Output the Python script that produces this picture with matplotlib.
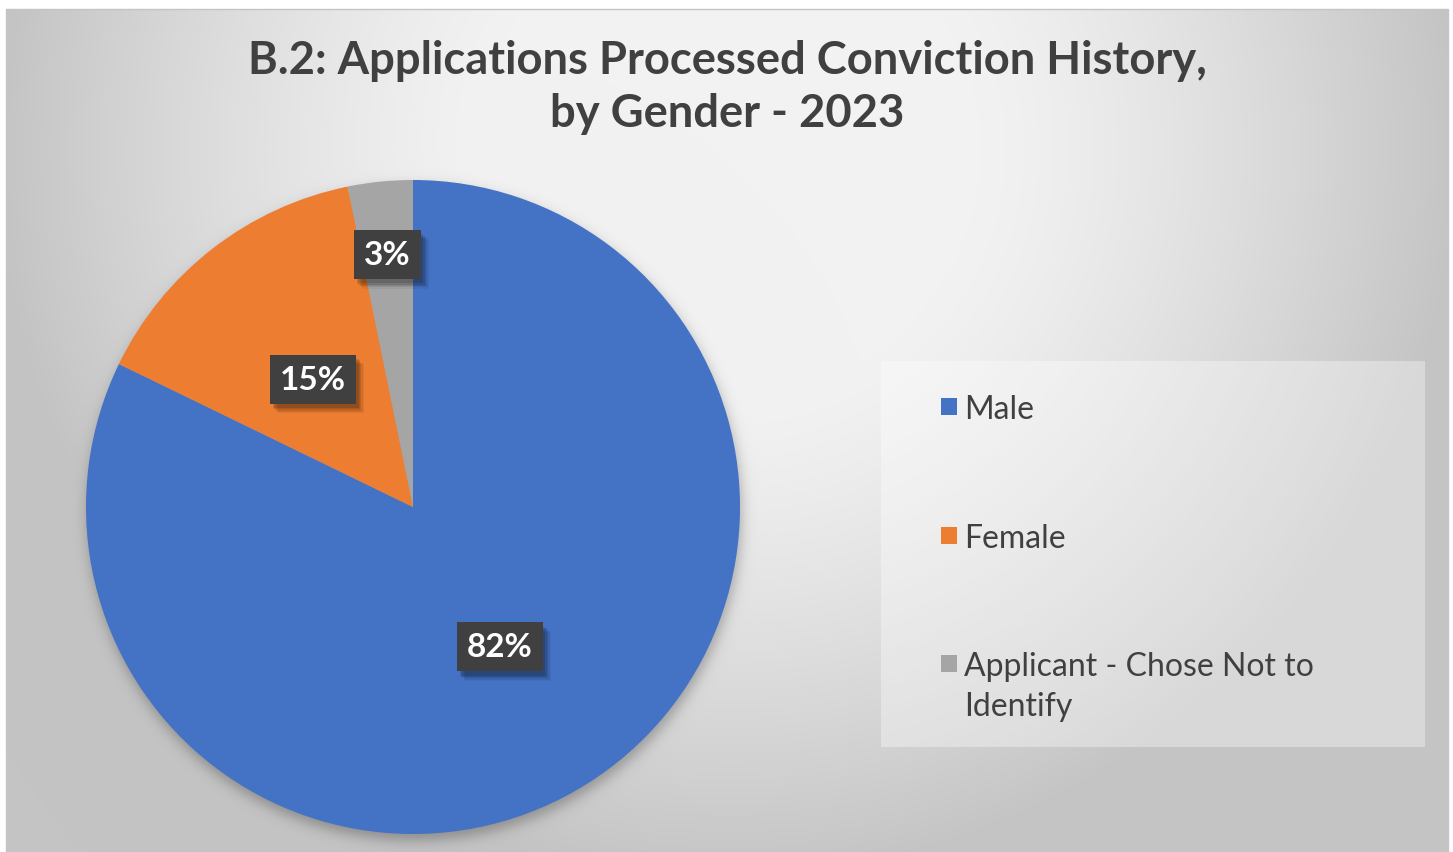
import numpy as np
import matplotlib
matplotlib.use("Agg")
import matplotlib.pyplot as plt
from matplotlib.patches import Rectangle
import matplotlib.patheffects as pe

# ---- data ----
categories = ["Male", "Female", "Applicant - Chose Not to\nIdentify"]
shares = [82.2, 14.6, 3.2]
colors = ["#4472C4", "#ED7D31", "#A5A5A5"]
title_lines = ["B.2: Applications Processed Conviction History,", "by Gender - 2023"]

# ---- layout (pixels) ----
W, H = 1453, 853
cx, cy, R = 413, 508, 327
label_r = [0.5, 0.5, 0.78]

fig = plt.figure(figsize=(W / 100, H / 100), dpi=100)
fig.patch.set_facecolor("white")

# background gradient with soft pie shadow
bx0, by0, bw, bh = 6, 10, 1442, 843
bg_ax = fig.add_axes([bx0 / W, 0, bw / W, bh / H])
yy, xx = np.mgrid[0:bh, 0:bw]
px = xx + bx0
py = yy + by0
d = np.hypot(px - 730, py - 150)
t = np.clip((d - 250) / 480, 0, 1) ** 1.3
val = 242 - 46 * t
ds = np.hypot(px - (cx + 1), py - (cy + 6))
sh = 0.5 * (1 - np.tanh((ds - R) / 8))
val = val * (1 - 0.28 * sh)
img = np.dstack([val] * 3) / 255.0
bg_ax.imshow(img, aspect="auto", interpolation="bilinear")
bg_ax.set_axis_off()
fig.patches.append(Rectangle((bx0 / W, 0), bw / W, bh / H, transform=fig.transFigure,
                             fill=False, ec="#c4c4c4", lw=1, zorder=5))

# pie
half = 360
ax = fig.add_axes([(cx - half) / W, (H - cy - half) / H, 2 * half / W, 2 * half / H])
wedges, _ = ax.pie(shares, colors=colors, startangle=90, counterclock=False, radius=1,
                   wedgeprops=dict(linewidth=0))
ax.set_xlim(-half / R, half / R)
ax.set_ylim(-half / R, half / R)
ax.set_axis_off()

shadow_fx = [pe.SimplePatchShadow(offset=(o, -o - 1), shadow_rgbFace="black", alpha=a)
             for o, a in [(6, 0.05), (5, 0.07), (4, 0.09), (3, 0.11), (2, 0.12)]] + [pe.Normal()]
for w, s, r in zip(wedges, shares, label_r):
    ang = np.deg2rad((w.theta1 + w.theta2) / 2)
    txt = ax.text(r * np.cos(ang), r * np.sin(ang) - 0.004, f"{round(s):.0f}%", ha="center",
                  va="center", color="white", fontsize=24, fontweight="bold", family="Lato",
                  bbox=dict(boxstyle="square,pad=0.3", fc="#404040", ec="none", lw=0))
    txt.get_bbox_patch().set_path_effects(shadow_fx)

# title
title_base = [74, 127]
tts = []
for line, yb in zip(title_lines, title_base):
    tts.append(fig.text(727 / W, (H - yb) / H, line, ha="center", va="baseline",
                        fontsize=29, fontweight="bold", color="#404040", family="Lato"))
fig.canvas.draw()
wid = tts[0].get_window_extent().width
for tt in tts:
    tt.set_fontsize(29 * 961 / wid)

# legend
fig.patches.append(Rectangle((881 / W, (H - 748) / H), (1425 - 881) / W, (748 - 362) / H,
                             transform=fig.transFigure, fc="white", alpha=0.35, ec="none"))
for i, (lab, col) in enumerate(zip(categories, colors)):
    yc = 407.5 + i * 128.5
    fig.patches.append(Rectangle((941 / W, (H - yc - 8.5) / H), 16 / W, 17 / H,
                                 transform=fig.transFigure, fc=col, ec="none"))
    for j, part in enumerate(lab.split("\n")):
        fig.text(964 / W, (H - yc - 11.5 - 40 * j) / H, part, ha="left", va="baseline",
                 fontsize=23, color="#404040", family="Lato")

fig.savefig("out.png", dpi=100, facecolor="white")
